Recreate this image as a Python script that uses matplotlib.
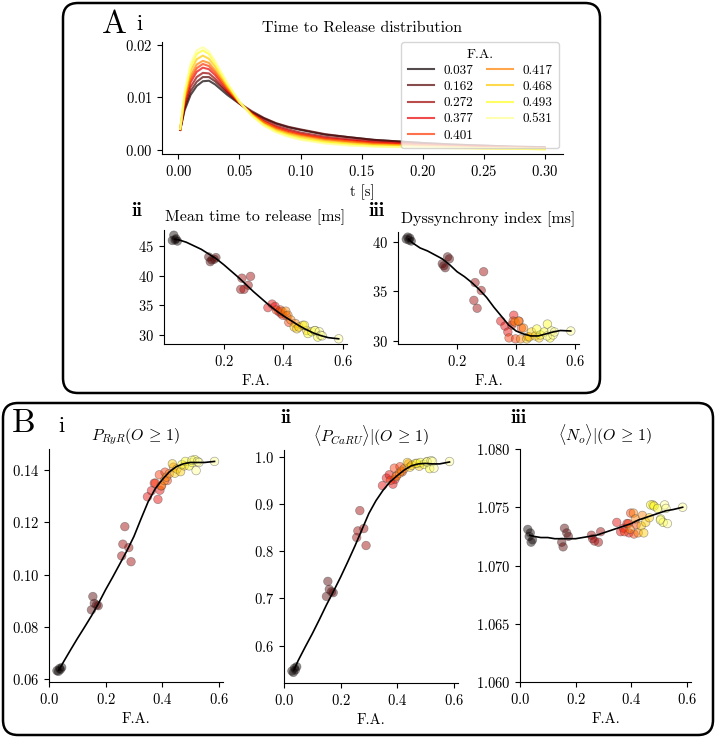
import numpy as np
import matplotlib
matplotlib.use("Agg")
import matplotlib.pyplot as plt
from matplotlib.patches import FancyBboxPatch

plt.rcParams.update({
    "font.family": "serif",
    "font.serif": ["cmr10"],
    "mathtext.fontset": "cm",
    "axes.formatter.use_mathtext": True,
    "axes.unicode_minus": False,
    "font.size": 10.5,
})

# ---- data ----
fa_legend = ["0.037", "0.162", "0.272", "0.377", "0.401", "0.417", "0.468", "0.493", "0.531"]

t = [0.0015, 0.005, 0.01, 0.015, 0.02, 0.025, 0.03, 0.04, 0.05, 0.06, 0.07, 0.08,
     0.09, 0.10, 0.12, 0.14, 0.16, 0.18, 0.20, 0.225, 0.25, 0.275, 0.30]
ttr = [
    [0.0038, 0.0075, 0.0105, 0.0122, 0.0131, 0.0132, 0.0125, 0.0105, 0.0088, 0.0072, 0.0060, 0.0050,
     0.0043, 0.0038, 0.0029, 0.0024, 0.0019, 0.0016, 0.0013, 0.0010, 0.0008, 0.0006, 0.0005],
    [0.0038, 0.0079, 0.0112, 0.0130, 0.0139, 0.0139, 0.0131, 0.0109, 0.0089, 0.0074, 0.0061, 0.0051,
     0.0044, 0.0039, 0.0030, 0.0024, 0.0019, 0.0016, 0.0013, 0.0010, 0.0008, 0.0006, 0.0005],
    [0.0038, 0.0084, 0.0120, 0.0139, 0.0147, 0.0146, 0.0136, 0.0111, 0.0089, 0.0070, 0.0057, 0.0046,
     0.0039, 0.0033, 0.0025, 0.0020, 0.0016, 0.0013, 0.0011, 0.0008, 0.0007, 0.0005, 0.0004],
    [0.0039, 0.0089, 0.0129, 0.0149, 0.0157, 0.0154, 0.0143, 0.0114, 0.0090, 0.0069, 0.0054, 0.0043,
     0.0036, 0.0030, 0.0022, 0.0018, 0.0014, 0.0012, 0.0009, 0.0007, 0.0006, 0.0004, 0.0003],
    [0.0039, 0.0093, 0.0135, 0.0156, 0.0164, 0.0160, 0.0148, 0.0117, 0.0090, 0.0069, 0.0053, 0.0042,
     0.0034, 0.0029, 0.0021, 0.0016, 0.0013, 0.0011, 0.0009, 0.0007, 0.0005, 0.0004, 0.0003],
    [0.0039, 0.0096, 0.0141, 0.0163, 0.0170, 0.0166, 0.0152, 0.0119, 0.0090, 0.0068, 0.0052, 0.0040,
     0.0032, 0.0027, 0.0019, 0.0015, 0.0011, 0.0009, 0.0008, 0.0006, 0.0004, 0.0004, 0.0003],
    [0.0040, 0.0101, 0.0150, 0.0173, 0.0180, 0.0174, 0.0159, 0.0122, 0.0091, 0.0067, 0.0049, 0.0037,
     0.0030, 0.0024, 0.0016, 0.0012, 0.0009, 0.0008, 0.0006, 0.0005, 0.0003, 0.0003, 0.0002],
    [0.0040, 0.0106, 0.0159, 0.0183, 0.0190, 0.0183, 0.0165, 0.0126, 0.0092, 0.0066, 0.0047, 0.0035,
     0.0027, 0.0021, 0.0014, 0.0010, 0.0007, 0.0006, 0.0005, 0.0004, 0.0003, 0.0002, 0.0001],
    [0.0040, 0.0110, 0.0165, 0.0190, 0.0196, 0.0188, 0.0170, 0.0128, 0.0092, 0.0065, 0.0046, 0.0033,
     0.0025, 0.0019, 0.0012, 0.0008, 0.0006, 0.0005, 0.0004, 0.0003, 0.0002, 0.0002, 0.0001],
]

# individual samples, grouped like the legend
fa = [
    [0.028, 0.033, 0.037, 0.040, 0.045],
    [0.150, 0.155, 0.160, 0.168, 0.174],
    [0.257, 0.261, 0.268, 0.282, 0.290],
    [0.348, 0.362, 0.372, 0.385, 0.392],
    [0.376, 0.390, 0.398, 0.410, 0.418],
    [0.396, 0.408, 0.415, 0.425, 0.440],
    [0.436, 0.445, 0.452, 0.465, 0.478],
    [0.470, 0.482, 0.495, 0.506, 0.515],
    [0.505, 0.520, 0.525, 0.530, 0.585],
]
mean_ms = [
    [46.0, 46.9, 46.1, 46.3, 45.9],
    [43.2, 42.4, 42.7, 42.8, 43.1],
    [37.7, 39.6, 37.7, 38.4, 39.9],
    [34.6, 35.2, 34.8, 33.9, 33.6],
    [34.2, 34.2, 33.3, 33.2, 32.1],
    [33.9, 34.0, 33.3, 32.5, 31.9],
    [31.3, 31.0, 31.3, 31.6, 30.7],
    [31.6, 30.2, 30.5, 30.7, 29.6],
    [30.7, 30.5, 29.9, 29.8, 29.3],
]
dys_ms = [
    [40.3, 40.5, 40.2, 40.4, 40.1],
    [37.8, 37.6, 37.4, 38.5, 38.3],
    [34.1, 35.9, 33.3, 35.1, 37.0],
    [32.0, 31.5, 30.9, 31.6, 32.6],
    [30.3, 32.0, 30.2, 32.0, 31.3],
    [31.9, 32.0, 30.2, 31.3, 30.4],
    [30.2, 30.4, 30.9, 30.5, 30.3],
    [31.2, 30.6, 30.9, 31.7, 30.3],
    [30.5, 31.0, 30.6, 30.9, 31.0],
]
p_ryr = [
    [0.0633, 0.0630, 0.0641, 0.0637, 0.0645],
    [0.0865, 0.0916, 0.0890, 0.0884, 0.0881],
    [0.1071, 0.1116, 0.1183, 0.1103, 0.1049],
    [0.1297, 0.1320, 0.1349, 0.1287, 0.1322],
    [0.1349, 0.1381, 0.1339, 0.1391, 0.1359],
    [0.1339, 0.1359, 0.1372, 0.1385, 0.1410],
    [0.1423, 0.1387, 0.1403, 0.1393, 0.1415],
    [0.1420, 0.1432, 0.1415, 0.1428, 0.1439],
    [0.1436, 0.1397, 0.1432, 0.1428, 0.1432],
]
p_caru = [
    [0.546, 0.543, 0.552, 0.548, 0.555],
    [0.704, 0.736, 0.719, 0.714, 0.712],
    [0.829, 0.843, 0.886, 0.848, 0.812],
    [0.939, 0.955, 0.962, 0.942, 0.952],
    [0.950, 0.976, 0.960, 0.979, 0.968],
    [0.958, 0.965, 0.970, 0.975, 0.985],
    [0.988, 0.978, 0.982, 0.986, 0.980],
    [0.986, 0.988, 0.984, 0.990, 0.975],
    [0.989, 0.992, 0.990, 0.976, 0.990],
]
n_open = [
    [1.0731, 1.0725, 1.0728, 1.0720, 1.0722],
    [1.0720, 1.0716, 1.0732, 1.0728, 1.0725],
    [1.0726, 1.0723, 1.0721, 1.0720, 1.0729],
    [1.0737, 1.0729, 1.0732, 1.0736, 1.0728],
    [1.0729, 1.0736, 1.0745, 1.0727, 1.0735],
    [1.0731, 1.0745, 1.0740, 1.0728, 1.0743],
    [1.0734, 1.0728, 1.0737, 1.0741, 1.0752],
    [1.0752, 1.0751, 1.0749, 1.0740, 1.0737],
    [1.0739, 1.0752, 1.0749, 1.0736, 1.0750],
]

# fitted curves
fit_fa = [0.035, 0.05, 0.075, 0.1, 0.125, 0.15, 0.175, 0.2, 0.225, 0.25, 0.275, 0.3,
          0.325, 0.35, 0.375, 0.4, 0.425, 0.45, 0.475, 0.5, 0.525, 0.55, 0.585]
fit_mean = [46.2, 46.1, 45.7, 45.1, 44.5, 43.7, 42.9, 41.9, 40.8, 39.7, 38.5, 37.3,
            36.2, 35.1, 34.1, 33.2, 32.4, 31.6, 30.9, 30.3, 29.85, 29.5, 29.3]
fit_dys = [40.3, 39.9, 39.4, 39.1, 38.7, 38.3, 37.7, 37.0, 36.5, 35.9, 35.2, 34.4,
           33.4, 32.5, 31.6, 31.0, 30.7, 30.5, 30.5, 30.7, 30.9, 31.05, 31.0]
fit_ryr = [0.0635, 0.0664, 0.0710, 0.0755, 0.0798, 0.0842, 0.0890, 0.0942, 0.0990, 0.1040,
           0.1090, 0.1145, 0.1212, 0.1277, 0.1327, 0.1362, 0.1392, 0.1412, 0.1423, 0.1428,
           0.1428, 0.1428, 0.1432]
fit_caru = [0.548, 0.568, 0.597, 0.625, 0.655, 0.686, 0.715, 0.745, 0.777, 0.810, 0.845, 0.880,
            0.907, 0.929, 0.947, 0.960, 0.972, 0.981, 0.985, 0.986, 0.985, 0.985, 0.989]
fit_no = [1.0726, 1.0725, 1.0724, 1.0724, 1.0723, 1.0723, 1.0723, 1.0723, 1.0724, 1.0725,
          1.0726, 1.0728, 1.0730, 1.0732, 1.0734, 1.0736, 1.0739, 1.0741, 1.0743, 1.0745,
          1.0747, 1.0748, 1.0750]

# ---- figure ----
W, H = 716, 738
fig = plt.figure(figsize=(W / 100, H / 100), dpi=100)


def ax_px(l, t_, r, b):
    return fig.add_axes([l / W, 1 - b / H, (r - l) / W, (b - t_) / H])


cmap = plt.get_cmap("hot")
gcol = [cmap(i / 9) for i in range(9)]

fa_all = np.concatenate(fa)
col_all = [gcol[i] for i, g in enumerate(fa) for _ in g]


def despine(ax):
    ax.spines["top"].set_visible(False)
    ax.spines["right"].set_visible(False)


def scatter_panel(ax, vals, fx, fy, title):
    ax.scatter(fa_all, np.concatenate(vals), c=col_all, s=38, alpha=0.45,
               edgecolors="0.25", linewidths=0.5, zorder=2)
    ax.plot(fx, fy, color="k", lw=1.2, zorder=3)
    ax.set_title(title, fontsize=11.5, pad=6)
    ax.set_xlabel("F.A.", fontsize=10.5)
    despine(ax)


# A i
ax = ax_px(162, 42, 563, 154)
for i in range(9):
    ax.plot(t, ttr[i], color=gcol[i], lw=1.5, alpha=0.7, label=fa_legend[i])
ax.set_ylim(-0.0008, 0.0206)
ax.set_yticks([0.0, 0.01, 0.02])
ax.set_xticks([0.0, 0.05, 0.10, 0.15, 0.20, 0.25, 0.30])
ax.set_xlabel("t [s]", fontsize=10.5)
ax.set_title("Time to Release distribution", fontsize=11.5, pad=7)
despine(ax)
ax.legend(title="F.A.", ncol=2, fontsize=9.5, title_fontsize=10, loc="upper right",
          bbox_to_anchor=(0.99, 1.0), borderaxespad=0, handlelength=2.0,
          columnspacing=1.0, handletextpad=0.7, labelspacing=0.3, borderpad=0.5)

# A ii
ax = ax_px(164, 230, 347, 344)
scatter_panel(ax, mean_ms, fit_fa, fit_mean, "Mean time to release [ms]")
ax.set_xticks([0.2, 0.4, 0.6])
ax.set_yticks([30, 35, 40, 45])

# A iii
ax = ax_px(398, 232, 579, 344)
scatter_panel(ax, dys_ms, fit_fa, fit_dys, "Dyssynchrony index [ms]")
ax.set_xticks([0.2, 0.4, 0.6])
ax.set_yticks([30, 35, 40])

# B i
ax = ax_px(49, 449, 223, 682)
scatter_panel(ax, p_ryr, fit_fa, fit_ryr, r"$P_{RyR}(O\,\geq\,1)$")
ax.set_xlim(0, 0.615)
ax.set_xticks([0.0, 0.2, 0.4, 0.6])
ax.set_yticks([0.06, 0.08, 0.10, 0.12, 0.14])

# B ii
ax = ax_px(284, 450, 458, 683)
scatter_panel(ax, p_caru, fit_fa, fit_caru, r"$\langle P_{CaRU}\rangle|(O\,\geq\,1)$")
ax.set_xlim(0, 0.615)
ax.set_xticks([0.0, 0.2, 0.4, 0.6])
ax.set_yticks([0.6, 0.7, 0.8, 0.9, 1.0])

# B iii
ax = ax_px(520, 449, 691, 682)
scatter_panel(ax, n_open, fit_fa, fit_no, r"$\langle N_o\rangle|(O\,\geq\,1)$")
ax.set_xlim(0, 0.615)
ax.set_ylim(1.060, 1.080)
ax.set_xticks([0.0, 0.2, 0.4, 0.6])
ax.set_yticks([1.060, 1.065, 1.070, 1.075, 1.080])

# rounded panel frames (inches)
for x0, y0, w, h in [(0.63, 3.45, 5.37, 3.90), (0.03, 0.03, 7.10, 3.32)]:
    fig.patches.append(FancyBboxPatch((x0, y0), w, h, boxstyle="round,pad=0,rounding_size=0.15",
                                      transform=fig.dpi_scale_trans, fill=False,
                                      edgecolor="k", linewidth=1.8))


def lbl(x, y, s, size, family="cmr10"):
    fig.text(x / W, 1 - y / H, s, fontsize=size, ha="center", va="center", family=family)


lbl(114, 24, "A", 24)
lbl(139, 24, "i", 16)
lbl(137, 211, "ii", 14, "cmb10")
lbl(377, 211, "iii", 14, "cmb10")
lbl(24, 423, "B", 24)
lbl(61, 426, "i", 16)
lbl(286, 418, "ii", 14, "cmb10")
lbl(519, 418, "iii", 14, "cmb10")

fig.savefig("out.png", dpi=100)
